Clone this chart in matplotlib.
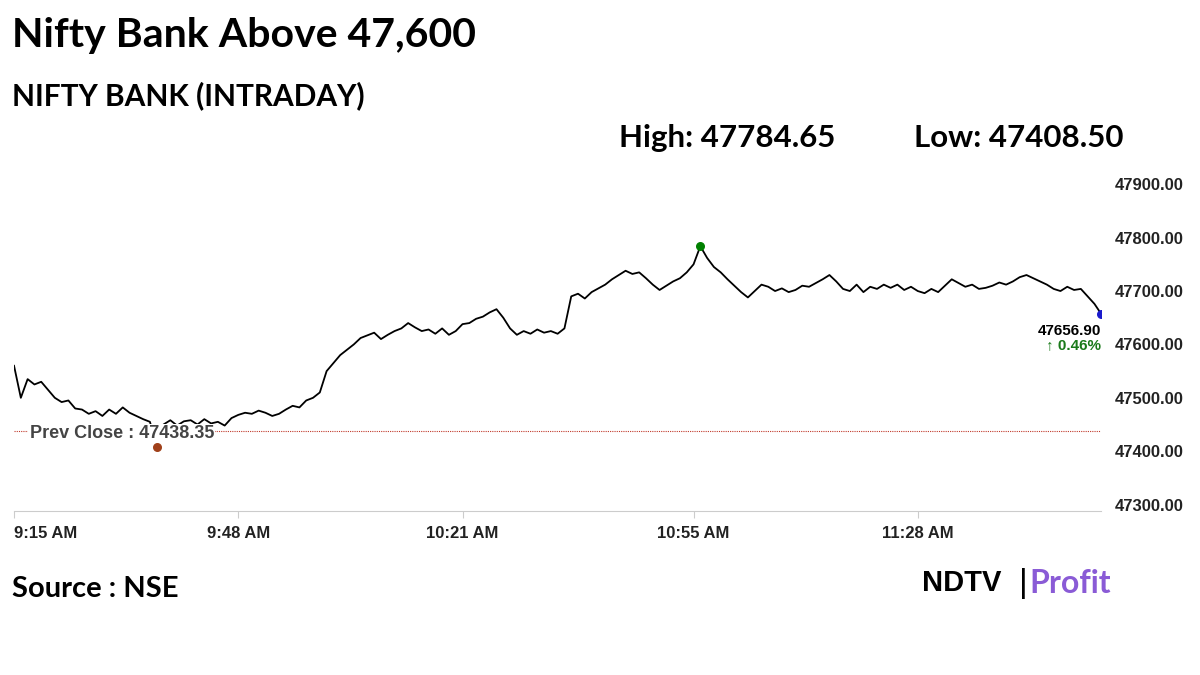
import numpy as np
import matplotlib
matplotlib.use("Agg")
import matplotlib.pyplot as plt

# minutes after 9:15 AM, one value per minute
prices = [
    47560, 47500, 47535, 47525, 47530, 47515, 47500, 47492, 47495, 47480,
    47478, 47470, 47475, 47466, 47478, 47470, 47482, 47472, 47466, 47460,
    47455, 47409, 47450, 47458, 47448, 47456, 47458, 47450, 47460, 47452,
    47455, 47448, 47462, 47468, 47472, 47470, 47476, 47472, 47466, 47470,
    47478, 47485, 47482, 47495, 47500, 47510, 47550, 47565, 47580, 47590,
    47600, 47612, 47617, 47622, 47610, 47618, 47625, 47630, 47640, 47632,
    47625, 47628, 47620, 47630, 47618, 47625, 47638, 47640, 47648, 47652,
    47660, 47666, 47650, 47630, 47618, 47625, 47620, 47628, 47622, 47625,
    47620, 47630, 47690, 47695, 47686, 47698, 47705, 47712, 47722, 47730,
    47738, 47732, 47735, 47724, 47712, 47702, 47710, 47718, 47724, 47735,
    47750, 47784, 47762, 47745, 47735, 47722, 47710, 47698, 47688, 47700,
    47712, 47708, 47700, 47705, 47698, 47702, 47710, 47708, 47715, 47722,
    47730, 47718, 47704, 47700, 47712, 47698, 47708, 47704, 47712, 47706,
    47712, 47702, 47708, 47700, 47696, 47704, 47698, 47710, 47722, 47715,
    47708, 47712, 47704, 47706, 47710, 47716, 47712, 47718, 47726, 47730,
    47724, 47718, 47712, 47704, 47700, 47708, 47702, 47704, 47690, 47676,
    47657,
]
minutes = np.arange(len(prices))
tick_min = [0, 33, 66, 100, 133]
tick_lab = ["9:15 AM", "9:48 AM", "10:21 AM", "10:55 AM", "11:28 AM"]
y_ticks = [47300, 47400, 47500, 47600, 47700, 47800, 47900]
prev_close = 47438.35
high, low, last, chg = 47784.65, 47408.50, 47656.90, 0.46

fig = plt.figure(figsize=(12, 6.75), dpi=100)
fig.patch.set_facecolor("white")
ax = fig.add_axes([0.0117, 0.243, 0.906, 0.484])

p = np.array(prices)
ax.plot(minutes, p, color="black", lw=1.3)
ax.axhline(prev_close, color="#c0392b", lw=0.8, ls=(0, (1, 1)))
hi_i, lo_i = p.argmax(), p.argmin()
ax.scatter([hi_i], [high], color="green", s=30, zorder=5)
ax.scatter([lo_i], [low], color="#a0401a", s=30, zorder=5)
ax.scatter([minutes[-1]], [last], color="#1a1acc", s=30, zorder=5)
ax.text(2.3, prev_close - 6, "Prev Close : %.2f" % prev_close, fontsize=13,
        family="Liberation Sans", weight="bold", color="#444444", va="center",
        bbox=dict(facecolor="white", edgecolor="none", pad=1), zorder=4)
ax.text(minutes[-1], last - 18, "%.2f" % last, fontsize=11,
        family="Liberation Sans", weight="bold", ha="right", va="top")
ax.text(minutes[-1], last - 45, "\u2191 %.2f%%" % chg, fontsize=11,
        family="Liberation Sans", weight="bold", ha="right", va="top",
        color="#1a7a1a")

ax.set_xlim(0, 160)
ax.set_ylim(47288, 47900)
for s in ["top", "left", "right"]:
    ax.spines[s].set_visible(False)
ax.spines["bottom"].set_color("#cccccc")
ax.set_xticks(tick_min)
ax.set_xticklabels(tick_lab, fontsize=12, family="Liberation Sans",
                   weight="bold", color="#222222")
ax.get_xticklabels()[0].set_ha("left")
ax.tick_params(axis="x", length=5, color="#cccccc", pad=6)
ax.yaxis.tick_right()
ax.set_yticks(y_ticks)
ax.set_yticklabels(["%.2f" % v for v in y_ticks], fontsize=12,
                   family="Liberation Sans", weight="bold", color="#222222")
ax.tick_params(axis="y", length=0, pad=10)

fig.text(0.01, 0.948, "Nifty Bank Above 47,600", fontsize=29.5, weight="bold",
         family="Lato", va="center")
fig.text(0.01, 0.858, "NIFTY BANK (INTRADAY)", fontsize=21.5, weight="bold",
         family="Lato", va="center")
fig.text(0.516, 0.795, "High: %.2f" % high, fontsize=22.5, weight="bold",
         family="Lato", va="center")
fig.text(0.762, 0.795, "Low: %.2f" % low, fontsize=22.5, weight="bold",
         family="Lato", va="center")
fig.text(0.01, 0.128, "Source : NSE", fontsize=21, weight="bold",
         family="Lato", va="center")
fig.text(0.768, 0.136, "NDTV", fontsize=21, weight="bold",
         family="Liberation Sans", va="center")
fig.text(0.849, 0.136, "|", fontsize=24, family="Liberation Sans", va="center")
fig.text(0.858, 0.136, "Profit", fontsize=23, weight="bold",
         family="Lato", va="center", color="#8a5bd6")

fig.savefig("out.png", dpi=100)
